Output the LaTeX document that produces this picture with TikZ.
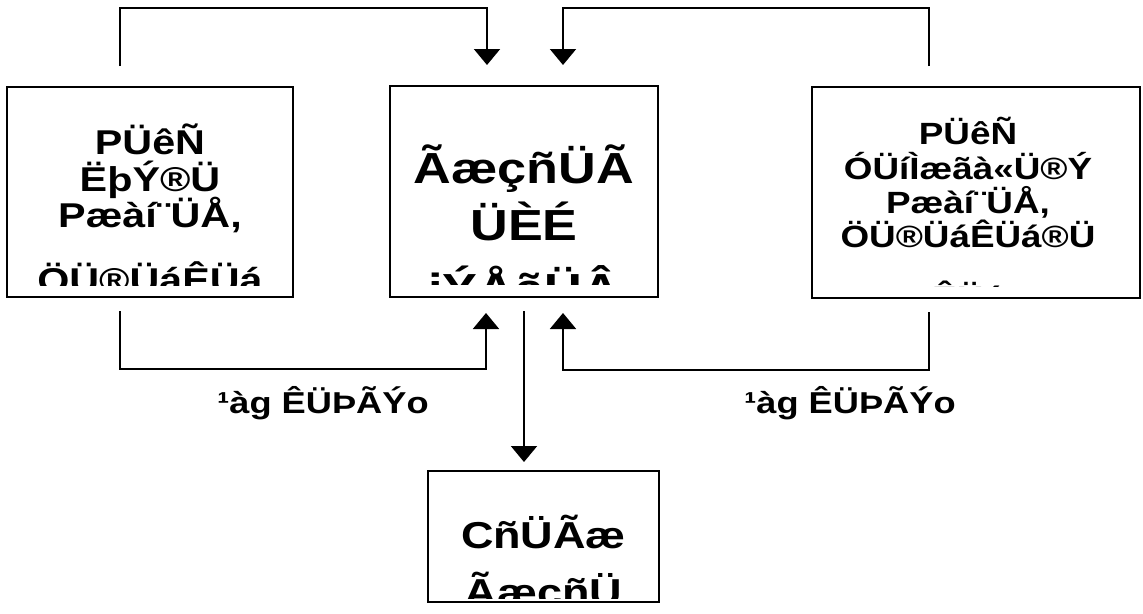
\documentclass[tikz,border=0pt]{standalone}
\usepackage{fontspec}
\newfontfamily\diagfont{Liberation Sans Bold}[FakeStretch=1.2]
\usetikzlibrary{positioning,calc,arrows.meta}
\newcommand{\boxsize}[2]{\diagfont\fontsize{#1}{#2}\selectfont\lineskiplimit=-100pt}

\begin{document}
\begin{tikzpicture}[x=1pt,y=-1pt,
    box/.style={draw,line width=2pt,inner sep=0pt},
    boxtext/.style={anchor=base,align=center,inner sep=0pt},
    flow/.style={line width=2pt,-{Triangle[width=26pt,length=16pt]}}]
  \useasboundingbox (0,0) rectangle (1143,613);
  \node[box,minimum width=286pt,minimum height=210pt] (lbox) at (150,192) {};
  \node[box,minimum width=268pt,minimum height=211pt] (cbox) at (524,191.5) {};
  \node[box,minimum width=328pt,minimum height=211pt] (rbox) at (976,192.5) {};
  \node[box,minimum width=231pt,minimum height=131pt] (bbox) at (543.5,536.5) {};
  \begin{scope}
    \clip (lbox.north west) rectangle ($(lbox.south east)+(0,-13)$);
    \node[boxtext,font=\boxsize{34.4}{36.5}] (ltext) at (150,292)
      {PÜêÑ\\ËþÝ®Ü\\Pæàí¨ÜÅ,\\[28pt]ÖÜ®ÜáÊÜá};
  \end{scope}
  \begin{scope}
    \clip (cbox.north west) rectangle ($(cbox.south east)+(0,-14)$);
    \node[boxtext,font=\boxsize{43.5}{57.5}] (ctext) at (524,304)
      {ÃæçñÜÃ\\ÜÈÉ\\[6pt]iÝÅãÜÂ};
  \end{scope}
  \begin{scope}
    \clip (rbox.north west) rectangle ($(rbox.south east)+(0,-13)$);
    \node[boxtext,font=\boxsize{30.7}{34.3}] (rtext) at (968,308)
      {PÜêÑ\\ÓÜíÌæãà«Ü®Ý\\Pæàí¨ÜÅ,\\ÖÜ®ÜáÊÜá®Ü\\[26pt]ÊÜá};
  \end{scope}
  \begin{scope}
    \clip (bbox.north west) rectangle ($(bbox.south east)+(0,-5)$);
    \node[boxtext,font=\boxsize{37.5}{57}] (btext) at (543.5,605)
      {CñÜÃæ\\ÃæçñÜ};
  \end{scope}
  \node[boxtext,font=\boxsize{30.2}{34}] (llab) at (323,413) {¹àg ÊÜÞÃÝo};
  \node[boxtext,font=\boxsize{30.2}{34}] (rlab) at (850,413) {¹àg ÊÜÞÃÝo};
  \coordinate (ltop) at ($(lbox.north west)+(114,-20)$);
  \coordinate (lbot) at ($(lbox.south west)+(114,13)$);
  \coordinate (rtop) at ($(rbox.north west)+(118,-20)$);
  \coordinate (rbot) at ($(rbox.south west)+(118,13)$);
  \coordinate (cinl) at ([xshift=-37pt,yshift=20pt]cbox.north);
  \coordinate (cinr) at ([xshift=39pt,yshift=20pt]cbox.north);
  \coordinate (cbl) at ([xshift=-38pt,yshift=-15pt]cbox.south);
  \coordinate (cbr) at ([xshift=39pt,yshift=-15pt]cbox.south);
  \coordinate (cout) at ([yshift=-13pt]cbox.south);
  \coordinate (bin) at ($(cbox.south |- bbox.north)+(0,-8)$);
  \draw[flow] (ltop) -- ++(0,-58) -| (cinl);
  \draw[flow] (rtop) -- ++(0,-58) -| (cinr);
  \draw[flow] (lbot) -- ++(0,58) -| (cbl);
  \draw[flow] (rbot) -- ++(0,58) -| (cbr);
  \draw[flow] (cout) -- (bin);
\end{tikzpicture}
\end{document}
